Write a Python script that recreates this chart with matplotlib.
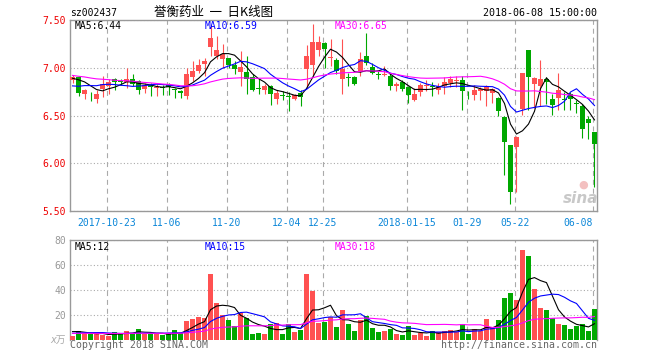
import matplotlib
matplotlib.use('Agg')
import matplotlib.pyplot as plt
import pandas as pd

# daily K-line, 88 trading days up to 2018-06-08
opens = [6.87, 6.90, 6.72, 6.73, 6.67, 6.78, 6.81, 6.88, 6.86, 6.85,
         6.88, 6.86, 6.78, 6.82, 6.79, 6.80, 6.82, 6.78, 6.76, 6.70,
         6.90, 6.97, 7.04, 7.22, 7.12, 7.09, 7.10, 7.03, 6.96, 6.96,
         6.90, 6.79, 6.77, 6.81, 6.67, 6.71, 6.70, 6.67, 6.74, 6.99,
         7.03, 7.19, 7.26, 7.10, 7.08, 6.88, 6.90, 6.90, 6.96, 7.12,
         7.01, 6.93, 6.92, 6.91, 6.81, 6.85, 6.80, 6.66, 6.75, 6.81,
         6.81, 6.77, 6.81, 6.84, 6.86, 6.87, 6.73, 6.71, 6.76, 6.76,
         6.74, 6.68, 6.48, 6.19, 6.17, 6.57, 7.19, 6.83, 6.81, 6.88,
         6.67, 6.68, 6.67, 6.72, 6.63, 6.60, 6.46, 6.33]
highs = [6.92, 6.91, 6.78, 6.75, 6.77, 6.91, 6.88, 6.89, 6.88, 7.00,
         6.93, 6.87, 6.84, 6.84, 6.83, 6.82, 6.84, 6.79, 6.77, 7.00,
         7.07, 7.09, 7.10, 7.45, 7.33, 7.25, 7.10, 7.07, 7.18, 7.12,
         6.93, 6.88, 6.83, 6.82, 6.77, 6.76, 6.75, 6.73, 6.77, 7.24,
         7.46, 7.33, 7.27, 7.30, 7.10, 7.30, 6.94, 6.91, 7.16, 7.36,
         7.05, 6.97, 7.02, 6.94, 6.85, 6.87, 6.81, 6.79, 6.84, 6.87,
         6.85, 6.84, 6.90, 6.91, 6.91, 6.91, 6.76, 6.82, 6.80, 6.82,
         6.79, 6.69, 6.50, 6.19, 6.29, 6.95, 7.19, 6.90, 7.08, 6.90,
         6.72, 6.95, 6.75, 6.75, 6.66, 6.62, 6.50, 6.33]
lows = [6.84, 6.70, 6.67, 6.65, 6.63, 6.69, 6.72, 6.77, 6.82, 6.79,
        6.81, 6.72, 6.74, 6.70, 6.70, 6.71, 6.71, 6.68, 6.68, 6.67,
        6.86, 6.95, 6.91, 7.12, 7.09, 7.00, 7.00, 6.93, 6.81, 6.73,
        6.76, 6.72, 6.72, 6.61, 6.62, 6.66, 6.55, 6.66, 6.60, 6.79,
        6.91, 7.12, 7.00, 7.02, 6.93, 6.73, 6.81, 6.82, 6.91, 7.03,
        6.93, 6.88, 6.91, 6.77, 6.76, 6.76, 6.63, 6.65, 6.70, 6.76,
        6.70, 6.72, 6.73, 6.80, 6.80, 6.56, 6.67, 6.66, 6.66, 6.60,
        6.63, 6.50, 5.88, 5.57, 5.70, 6.51, 6.56, 6.58, 6.60, 6.62,
        6.51, 6.56, 6.56, 6.56, 6.53, 6.26, 6.25, 5.75]
closes = [6.90, 6.74, 6.77, 6.72, 6.73, 6.83, 6.85, 6.85, 6.85, 6.88,
          6.83, 6.77, 6.82, 6.80, 6.80, 6.79, 6.80, 6.77, 6.74, 6.93,
          6.97, 7.03, 7.07, 7.31, 7.19, 7.14, 7.03, 6.99, 7.01, 6.88,
          6.77, 6.78, 6.81, 6.72, 6.74, 6.70, 6.69, 6.71, 6.69, 7.12,
          7.27, 7.27, 7.20, 7.11, 6.97, 6.99, 6.89, 6.83, 7.09, 7.05,
          6.95, 6.92, 6.93, 6.81, 6.83, 6.78, 6.71, 6.73, 6.82, 6.82,
          6.80, 6.81, 6.85, 6.88, 6.87, 6.76, 6.72, 6.77, 6.78, 6.80,
          6.78, 6.55, 6.22, 5.70, 6.28, 6.95, 6.90, 6.89, 6.88, 6.85,
          6.61, 6.77, 6.66, 6.67, 6.62, 6.36, 6.42, 6.20]
volumes = [3.2, 7.2, 5.3, 4.8, 4.8, 4.0, 3.2, 6.7, 5.3, 7.5,
           4.8, 8.8, 4.8, 4.5, 4.5, 4.3, 4.8, 8.0, 5.3, 15.2,
           16.8, 18.4, 17.9, 52.8, 29.9, 20.0, 16.0, 11.2, 21.9, 17.9,
           4.8, 5.9, 4.8, 12.8, 13.3, 4.8, 12.8, 6.7, 8.0, 52.8,
           39.5, 13.9, 14.7, 18.1, 10.7, 24.0, 12.8, 7.5, 16.0, 19.2,
           9.6, 6.7, 7.5, 9.1, 4.8, 4.0, 11.2, 4.0, 5.9, 3.2,
           7.2, 6.7, 7.5, 8.0, 6.7, 12.8, 4.8, 8.8, 7.5, 16.8,
           10.7, 16.0, 33.6, 37.6, 32.0, 72.0, 67.2, 40.8, 25.6, 24.0,
           17.9, 12.8, 12.0, 8.8, 11.2, 12.8, 7.5, 24.8]

# days before the window, only needed so the moving averages start where the chart's do
prior_close = [7.02, 6.98, 7.05, 7.00, 6.95, 6.98, 7.03, 6.97, 6.93, 6.96,
               7.00, 6.98, 6.94, 6.99, 6.96, 6.92, 6.95, 6.98, 6.97, 6.94,
               6.78, 6.70, 6.72, 6.74, 6.71, 6.82, 6.88, 6.92, 6.93]
prior_vol = [5.8, 4.6, 6.2, 5.1, 4.9, 5.7, 6.0, 4.8, 5.5, 5.2,
             4.7, 5.9, 5.3, 4.8, 5.6, 5.0, 5.4, 5.9, 4.6, 5.0,
             3.6, 4.2, 3.8, 4.0, 3.9, 6.8, 8.2, 7.5, 7.8]

date_idx = [6, 16, 26, 36, 42, 56, 66, 74, 87]
date_labels = ['2017-10-23', '11-06', '11-20', '12-04', '12-25',
               '2018-01-15', '01-29', '05-22', '06-08']
price_ticks = [5.5, 6.0, 6.5, 7.0, 7.5]
vol_ticks = [20, 40, 60, 80]
ma_periods = [5, 10, 30]
price_ma_last = ['6.44', '6.59', '6.65']
vol_ma_last = ['12', '15', '18']

RED = '#ff5151'
GREEN = '#00a800'
MA_COLORS = ['black', '#0000ff', '#ff00ff']
GRID = '#aaaaaa'
SPINE = '#999999'
MONO = 'DejaVu Sans Mono'

W, H = 660, 360
fig = plt.figure(figsize=(W / 100, H / 100), dpi=100)
fig.patch.set_facecolor('white')


def fx(px):
    return px / W


def fy(py):
    return 1 - py / H


ax1 = fig.add_axes([fx(70), fy(211), fx(527), 191 / H])
ax2 = fig.add_axes([fx(70), fy(340), fx(527), 100 / H])

n = len(closes)
xs = list(range(n))
up = [c >= o for o, c in zip(opens, closes)]
colors = [RED if u else GREEN for u in up]

# candles
body_bottom = [min(o, c) for o, c in zip(opens, closes)]
body_height = [max(abs(c - o), 0.008) for o, c in zip(opens, closes)]
ax1.vlines(xs, lows, highs, colors=colors, linewidth=0.8, zorder=3)
ax1.bar(xs, body_height, bottom=body_bottom, width=0.8, color=colors,
        linewidth=0, zorder=4)

# moving averages
close_s = pd.Series(prior_close + closes)
vol_s = pd.Series(prior_vol + volumes)
for p, col in zip(ma_periods, MA_COLORS):
    ma = close_s.rolling(p).mean().iloc[-n:].values
    ax1.plot(xs, ma, color=col, linewidth=0.8, zorder=5)
    vma = vol_s.rolling(p).mean().iloc[-n:].values
    ax2.plot(xs, vma, color=col, linewidth=0.8, zorder=5)

ax2.bar(xs, volumes, width=0.8, color=colors, linewidth=0, zorder=3)

tick_x = [i - 0.3 for i in date_idx]
for ax in (ax1, ax2):
    ax.set_xlim(-0.42, n - 0.58)
    ax.set_xticks(tick_x)
    ax.set_axisbelow(True)
    ax.grid(axis='x', color=GRID, linestyle=(0, (4.5, 3.5)), linewidth=0.8)
    ax.grid(axis='y', color=GRID, linestyle=(0, (1, 2)), linewidth=0.8)
    for s in ax.spines.values():
        s.set_color(SPINE)
        s.set_linewidth(1)
    ax.tick_params(length=0)

ax1.set_ylim(5.5, 7.5)
ax1.set_yticks(price_ticks)
ax1.set_yticklabels(['%.2f' % t for t in price_ticks], color='#ee0000',
                    fontsize=7, family=MONO)
ax1.tick_params(axis='y', pad=3)
ax1.set_xticklabels(date_labels, color='#0a86d8', fontsize=7, family=MONO)
ax1.tick_params(axis='x', pad=5)
ax1.get_xticklabels()[-1].set_ha('right')

ax2.set_ylim(0, 80)
ax2.set_yticks(vol_ticks)
ax2.set_yticklabels([str(t) for t in vol_ticks], color='#999999',
                    fontsize=7, family=MONO)
ax2.tick_params(axis='y', pad=3)
ax2.set_xticklabels([])
ax2.spines['bottom'].set_visible(False)

# header
fig.text(fx(70), fy(13), 'sz002437', fontsize=7, family=MONO, va='center')
fig.text(fx(214), fy(12), '誉衡药业  一  日K线图', fontsize=9, ha='center',
         va='center', family=['Noto Sans CJK SC', 'DejaVu Sans'])
fig.text(fx(597), fy(13), '2018-06-08 15:00:00', fontsize=7.2, family=MONO,
         ha='right', va='center')

# MA legends
leg_x = [75, 205, 335]
for k, p in enumerate(ma_periods):
    fig.text(fx(leg_x[k]), fy(26), 'MA%d:%s' % (p, price_ma_last[k]),
             color=MA_COLORS[k], fontsize=7, family=MONO, va='center')
    fig.text(fx(leg_x[k]), fy(246.5), 'MA%d:%s' % (p, vol_ma_last[k]),
             color=MA_COLORS[k], fontsize=7, family=MONO, va='center')

# unit + footer
fig.text(fx(66), fy(340), 'x万', color='#aaaaaa', fontsize=7, ha='right',
         va='center', fontstyle='italic',
         family=['DejaVu Sans', 'Noto Sans CJK SC'])
fig.text(fx(70), fy(345), 'Copyright 2018 SINA.COM', color='#666666',
         fontsize=7.1, family=MONO, va='center')
fig.text(fx(597), fy(345), 'http://finance.sina.com.cn', color='#666666',
         fontsize=7.1, family=MONO, ha='right', va='center')

# faint sina watermark
fig.text(fx(581), fy(198), 'sina', color='#bbbbbb', fontsize=11,
         fontstyle='italic', fontweight='bold', ha='center', va='center',
         alpha=0.8)
fig.text(fx(583), fy(185), '●', color='#f3c0c0', fontsize=8,
         ha='center', va='center')

fig.savefig('out.png', dpi=100)
